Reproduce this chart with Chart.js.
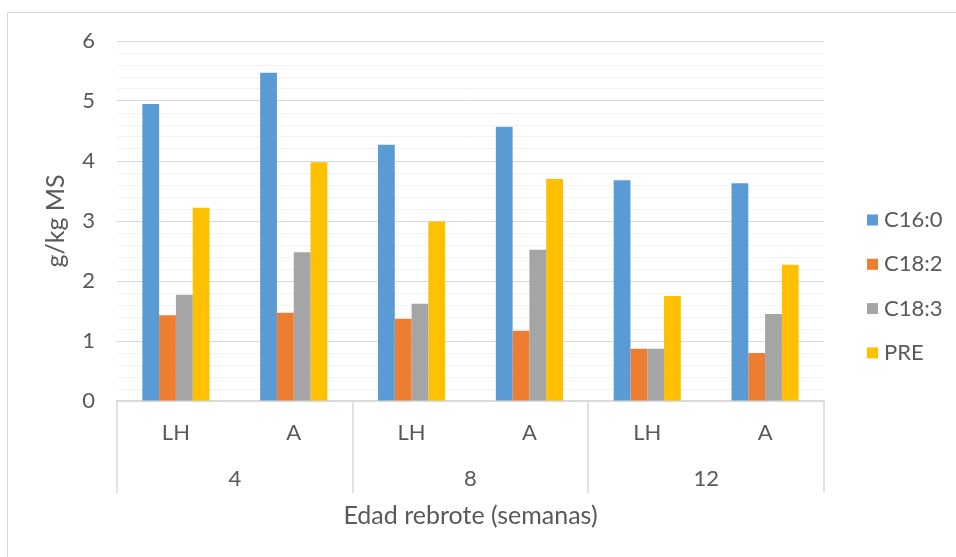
<!DOCTYPE html>
<html>
<head>
<meta charset="utf-8">
<script src="https://cdn.jsdelivr.net/npm/chart.js@4"></script>
<style>
  html, body { margin:0; padding:0; background:#fff; }
  #wrap { position:relative; width:956px; height:557px; overflow:hidden; }
  #frame { position:absolute; left:7px; top:12px; width:1000px; height:600px; border:1px solid #d9d9d9; box-sizing:border-box; }
  #chart { position:absolute; left:0; top:0; }
</style>
</head>
<body>
<div id="wrap">
  <div id="frame"></div>
  <canvas id="chart" width="956" height="557"></canvas>
</div>
<script>
// data
const subCats = ['LH', 'A', 'LH', 'A', 'LH', 'A'];
const ageGroups = ['4', '8', '12'];
const c160 = [4.95, 5.47, 4.27, 4.57, 3.68, 3.63];
const c182 = [1.43, 1.47, 1.37, 1.17, 0.87, 0.80];
const c183 = [1.77, 2.48, 1.62, 2.52, 0.87, 1.45];
const pre  = [3.22, 3.98, 2.99, 3.70, 1.75, 2.27];
const seriesNames = ['C16:0', 'C18:2', 'C18:3', 'PRE'];
const seriesColors = ['#5b9bd5', '#ed7d31', '#a5a5a5', '#ffc000'];
const yMin = 0, yMax = 6, yStep = 0.2;

const FONT = 'Lato, Carlito, Calibri, sans-serif';
const TXT = '#595959';
const LINE = '#d9d9d9';

const isInt = v => Math.abs(v - Math.round(v)) < 1e-6;

// second level of the category axis (4 / 8 / 12) + separators
const groupAxis = {
  id: 'groupAxis',
  afterDraw(chart) {
    const { ctx } = chart;
    const x = chart.scales.x;
    const half = (x.getPixelForValue(1) - x.getPixelForValue(0)) / 2;
    const per = subCats.length / ageGroups.length;
    const top = x.top, bot = x.top + 92;
    ctx.save();
    ctx.strokeStyle = LINE;
    ctx.lineWidth = 1.5;
    for (let g = 0; g <= ageGroups.length; g++) {
      const idx = g * per;
      const px = Math.round(idx < subCats.length ? x.getPixelForValue(idx) - half : x.getPixelForValue(subCats.length - 1) + half);
      ctx.beginPath();
      ctx.moveTo(px, top);
      ctx.lineTo(px, bot);
      ctx.stroke();
    }
    ctx.fillStyle = TXT;
    ctx.font = '22px ' + FONT;
    ctx.textAlign = 'center';
    ctx.textBaseline = 'middle';
    ageGroups.forEach((lab, g) => {
      const a = x.getPixelForValue(g * per) - half;
      const b = x.getPixelForValue(g * per + per - 1) + half;
      ctx.fillText(lab, (a + b) / 2, x.top + 78);
    });
    ctx.restore();
  }
};

// legend on the right
const sideLegend = {
  id: 'sideLegend',
  afterDraw(chart) {
    const { ctx, chartArea } = chart;
    const bx = chartArea.right + 43;
    ctx.save();
    ctx.font = '22px ' + FONT;
    ctx.textAlign = 'left';
    ctx.textBaseline = 'middle';
    chart.data.datasets.forEach((ds, i) => {
      const cy = 220 + i * 44.3;
      ctx.fillStyle = ds.backgroundColor;
      ctx.fillRect(bx, cy - 5.5, 11, 11);
      ctx.fillStyle = TXT;
      ctx.fillText(ds.label, bx + 17, cy);
    });
    ctx.restore();
  }
};

const seriesData = [c160, c182, c183, pre];

new Chart(document.getElementById('chart'), {
  type: 'bar',
  data: {
    labels: subCats,
    datasets: seriesNames.map((name, i) => ({
      label: name,
      data: seriesData[i],
      backgroundColor: seriesColors[i],
      borderWidth: 0,
      categoryPercentage: 0.57,
      barPercentage: 1.0
    }))
  },
  options: {
    responsive: false,
    animation: false,
    layout: { padding: { left: 0, top: 41, right: 132, bottom: 0 } },
    plugins: { legend: { display: false }, tooltip: { enabled: false } },
    scales: {
      x: {
        grid: { display: false, drawTicks: false },
        border: { color: LINE, width: 1.5 },
        ticks: { color: TXT, font: { family: FONT, size: 22 }, padding: 19, maxRotation: 0 },
        title: {
          display: true, text: 'Edad rebrote (semanas)', color: TXT,
          font: { family: FONT, size: 25 }, padding: { top: 0, bottom: 26 }
        },
        afterFit(s) { s.height = 156; }
      },
      y: {
        min: yMin, max: yMax,
        grid: {
          drawTicks: false,
          color: c => isInt(c.tick.value) ? LINE : '#f2f2f2',
          lineWidth: 1
        },
        border: { display: false },
        ticks: {
          stepSize: yStep, autoSkip: false, padding: 22, color: TXT,
          font: { family: FONT, size: 22 },
          callback: v => isInt(v) ? String(Math.round(v)) : ''
        },
        title: {
          display: true, text: 'g/kg MS', color: TXT,
          font: { family: FONT, size: 25 }, padding: { top: 41, bottom: 0 }
        },
        afterFit(s) { s.width = 117; }
      }
    }
  },
  plugins: [groupAxis, sideLegend]
});
</script>
</body>
</html>
